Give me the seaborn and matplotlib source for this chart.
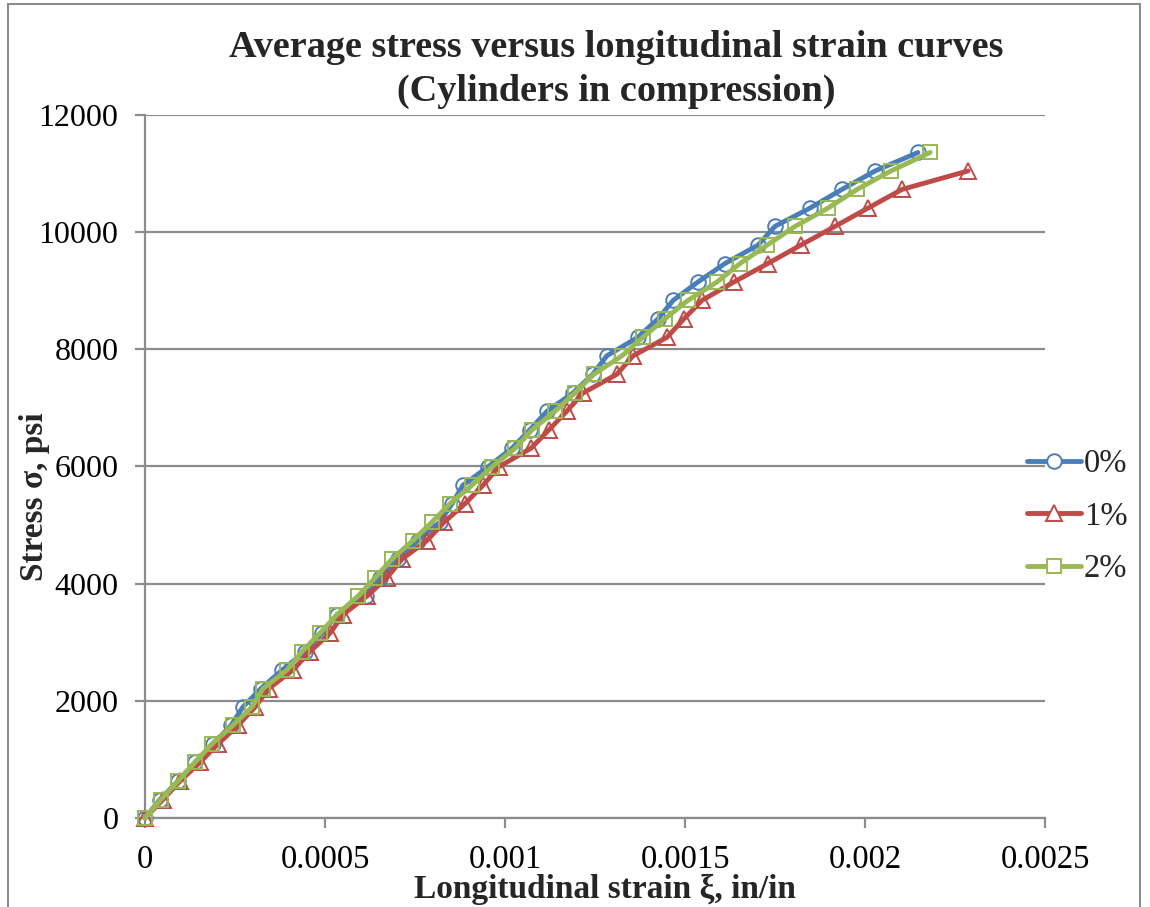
import matplotlib
matplotlib.use("Agg")
import matplotlib.pyplot as plt
from matplotlib.lines import Line2D
from matplotlib.patches import Rectangle
import seaborn as sns
import pandas as pd

# ---------------- data ----------------
series_names = ["0%", "1%", "2%"]

strain_0 = [0, 0.0000417, 0.0000917, 0.000139, 0.000189, 0.000239, 0.000272, 0.000322,
            0.000381, 0.000444, 0.000492, 0.000533, 0.000614, 0.000653, 0.000703, 0.000758,
            0.000819, 0.000853, 0.000883, 0.000953, 0.001019, 0.001069, 0.001117, 0.001189,
            0.001244, 0.001283, 0.001369, 0.001425, 0.001467, 0.001536, 0.001611, 0.001703,
            0.00175, 0.001847, 0.001936, 0.002028, 0.002147]
stress_0 = [0, 315, 630, 950, 1265, 1580, 1895, 2210, 2525, 2840, 3155, 3470, 3790, 4100,
            4420, 4735, 5050, 5365, 5680, 5995, 6310, 6625, 6945, 7255, 7575, 7890, 8205,
            8520, 8835, 9150, 9465, 9780, 10100, 10410, 10730, 11045, 11360]

strain_1 = [0, 0.00005, 0.0000972, 0.000153, 0.000203, 0.000258, 0.000306, 0.000344,
            0.000411, 0.000458, 0.000514, 0.00055, 0.000617, 0.000672, 0.000714, 0.000783,
            0.000831, 0.000889, 0.000939, 0.000983, 0.001072, 0.001122, 0.001172, 0.001217,
            0.001311, 0.001356, 0.00145, 0.001497, 0.001547, 0.001636, 0.00173, 0.001822,
            0.001917, 0.002008, 0.002103, 0.002286]
stress_1 = [0, 315, 630, 950, 1265, 1580, 1895, 2210, 2525, 2840, 3155, 3470, 3790, 4100,
            4420, 4735, 5050, 5365, 5680, 5995, 6310, 6625, 6945, 7255, 7575, 7890, 8205,
            8520, 8835, 9150, 9465, 9780, 10100, 10410, 10730, 11045]

strain_2 = [0, 0.0000444, 0.0000917, 0.000139, 0.000186, 0.000244, 0.000297, 0.000328,
            0.000394, 0.000436, 0.000486, 0.000533, 0.000592, 0.000639, 0.000686, 0.000744,
            0.000797, 0.000847, 0.000908, 0.000964, 0.001028, 0.001075, 0.001139, 0.001194,
            0.001247, 0.001325, 0.001383, 0.001444, 0.001508, 0.001589, 0.001653, 0.001728,
            0.001806, 0.001897, 0.001978, 0.002072, 0.002181]
stress_2 = [0, 315, 630, 950, 1265, 1580, 1895, 2210, 2525, 2840, 3155, 3470, 3790, 4100,
            4420, 4735, 5050, 5365, 5680, 5995, 6310, 6625, 6945, 7255, 7575, 7890, 8205,
            8520, 8835, 9150, 9465, 9780, 10100, 10410, 10730, 11045, 11360]

x_ticks = [0, 0.0005, 0.001, 0.0015, 0.002, 0.0025]
x_tick_labels = ["0", "0.0005", "0.001", "0.0015", "0.002", "0.0025"]
y_ticks = [0, 2000, 4000, 6000, 8000, 10000, 12000]
y_tick_labels = ["0", "2000", "4000", "6000", "8000", "10000", "12000"]

title_text = "Average stress versus longitudinal strain curves\n(Cylinders in compression)"
x_label = "Longitudinal strain \u03be, in/in"
y_label = "Stress \u03c3, psi"

# ---------------- style ----------------
colors = ["#4A7EBB", "#BE4B48", "#98B954"]
markers = ["o", "^", "s"]
marker_sizes = [10.5, 11.5, 10.5]
grid_gray = "#8C8C8C"

sns.set_theme(style="white")
plt.rcParams["font.family"] = ["Liberation Serif", "DejaVu Serif"]

W, H = 1150, 907
fig = plt.figure(figsize=(W / 100, H / 100), dpi=100)
ax = fig.add_axes([145 / W, 1 - 818 / H, 900 / W, 703 / H])

frames = []
for name, xs, ys in [("0%", strain_0, stress_0), ("1%", strain_1, stress_1), ("2%", strain_2, stress_2)]:
    frames.append(pd.DataFrame({"strain": xs, "stress": ys, "series": name}))
df = pd.concat(frames, ignore_index=True)

for i, name in enumerate(series_names):
    sub = df[df["series"] == name]
    sns.lineplot(data=sub, x="strain", y="stress", ax=ax, sort=False, estimator=None,
                 color=colors[i], linewidth=3.5, marker=markers[i], markersize=marker_sizes[i],
                 markerfacecolor="none", markeredgecolor=colors[i], markeredgewidth=1.4,
                 clip_on=False, zorder=3 + i, legend=False)

ax.set_xlim(0, 0.0025)
ax.set_ylim(0, 12000)
ax.set_xticks(x_ticks)
ax.set_xticklabels(x_tick_labels)
ax.set_yticks(y_ticks)
ax.set_yticklabels(y_tick_labels)

ax.yaxis.grid(True, color=grid_gray, linewidth=1.6)
ax.xaxis.grid(False)
ax.set_axisbelow(True)
for s in ["top", "right"]:
    ax.spines[s].set_visible(False)
for s in ["left", "bottom"]:
    ax.spines[s].set_color(grid_gray)
    ax.spines[s].set_linewidth(1.6)

ax.tick_params(axis="both", which="major", direction="out", length=7, width=1.6,
               color=grid_gray, labelsize=23, labelcolor="black")
ax.tick_params(axis="x", labelsize=23.5, pad=12, bottom=True)
ax.tick_params(axis="y", pad=12, left=True)

ax.set_xlabel(x_label, fontsize=24, fontweight="bold")
ax.set_ylabel(y_label, fontsize=24, fontweight="bold")
ax.xaxis.label.set_va("center")
ax.yaxis.label.set_va("center")
ax.xaxis.set_label_coords((605 - 145) / 900, (818 - 889) / 703)
ax.yaxis.set_label_coords((35 - 145) / 900, (818 - 497) / 703)

fig.text(616 / W, 1 - 69.5 / H, title_text, ha="center", va="center",
         fontsize=27.5, fontweight="bold", linespacing=1.3)

handles = [Line2D([], [], color=colors[i], linewidth=3.5, marker=markers[i],
                  markersize=marker_sizes[i], markerfacecolor="white",
                  markeredgecolor=colors[i], markeredgewidth=1.4)
           for i in range(3)]
fig.legend(handles, series_names, loc="center left",
           bbox_to_anchor=(1027 / W, 1 - 516.5 / H), bbox_transform=fig.transFigure,
           frameon=False, fontsize=23.5, handlelength=1.65, handletextpad=0.1,
           labelspacing=0.68, borderpad=0, borderaxespad=0)

# outer chart border (partially visible in the reference)
fig.patches.append(Rectangle((8 / W, -0.1), (1140 - 8) / W, 1.1 - 4 / H,
                             transform=fig.transFigure, fill=False,
                             edgecolor=grid_gray, linewidth=1.5))

fig.savefig("out.png", dpi=100, facecolor="white")
